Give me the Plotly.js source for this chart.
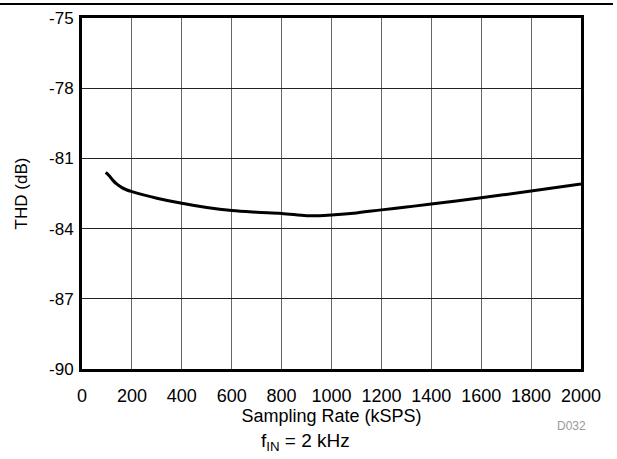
<!DOCTYPE html>
<html>
<head>
<meta charset="utf-8">
<script src="https://cdn.plot.ly/plotly-3.0.1.min.js"></script>
<style>html,body{margin:0;padding:0;background:#fff;}#chart{width:617px;height:459px;}</style>
</head>
<body>
<div id="chart"></div>
<script>
const samplingRate = [95,110,125,140,160,180,200,250,300,400,500,600,700,800,900,950,1000,1100,1200,1300,1400,1500,1600,1700,1800,1900,2000];
const thd = [-81.6,-81.75,-81.95,-82.1,-82.25,-82.35,-82.42,-82.57,-82.7,-82.92,-83.1,-83.23,-83.3,-83.35,-83.45,-83.45,-83.42,-83.33,-83.2,-83.08,-82.95,-82.82,-82.68,-82.54,-82.39,-82.24,-82.09];
const xTicks = [0,200,400,600,800,1000,1200,1400,1600,1800,2000];
const yTicks = [-90,-87,-84,-81,-78,-75];
const xTitle = 'Sampling Rate (kSPS)';
const yTitle = 'THD (dB)';
const note = 'f<sub>IN</sub> = 2 kHz';
const code = 'D032';

const font = '"Liberation Sans", Arial, sans-serif';
const L = 82, R = 581, T = 18, B = 369, W = 617, H = 459;
const pw = R - L, ph = B - T;

Plotly.newPlot('chart', [{
  x: samplingRate, y: thd, type: 'scatter', mode: 'lines',
  line: {color: '#000', width: 3, shape: 'spline'}, hoverinfo: 'skip'
}], {
  width: W, height: H,
  margin: {l: L, r: W - R, t: T, b: H - B},
  paper_bgcolor: '#fff', plot_bgcolor: '#fff',
  showlegend: false,
  font: {family: font, color: '#000', size: 17},
  xaxis: {
    range: [0, 2000], tickvals: xTicks, ticktext: xTicks.map(String),
    showgrid: true, gridcolor: '#666', gridwidth: 1,
    showline: true, linecolor: '#000', linewidth: 3, mirror: true,
    ticks: 'outside', ticklen: 8, tickcolor: 'rgba(0,0,0,0)',
    zeroline: false, tickfont: {size: 18, family: font},
    title: {text: xTitle, font: {size: 18, family: font}, standoff: 4}
  },
  yaxis: {
    range: [-90, -75], tickvals: yTicks, ticktext: yTicks.map(String),
    showgrid: true, gridcolor: '#222', gridwidth: 1,
    showline: true, linecolor: '#000', linewidth: 3, mirror: true,
    ticks: 'outside', ticklen: 2, tickcolor: 'rgba(0,0,0,0)',
    zeroline: false, tickfont: {size: 17, family: font},
    title: {text: yTitle, font: {size: 17, family: font}, standoff: 18}
  },
  shapes: [{
    type: 'line', xref: 'paper', yref: 'paper',
    x0: (0 - L) / pw, x1: (613 - L) / pw,
    y0: (B - 4) / ph, y1: (B - 4) / ph,
    line: {color: '#000', width: 2}
  }],
  annotations: [
    {text: note, xref: 'paper', yref: 'paper', x: (305 - L) / pw, y: (B - 442) / ph,
     showarrow: false, xanchor: 'center', yanchor: 'middle', font: {size: 19, family: font}},
    {text: code, xref: 'paper', yref: 'paper', x: (571 - L) / pw, y: (B - 426) / ph,
     showarrow: false, xanchor: 'center', yanchor: 'middle', font: {size: 12, family: font, color: '#999'}}
  ]
}, {displayModeBar: false, staticPlot: true});
</script>
</body>
</html>
